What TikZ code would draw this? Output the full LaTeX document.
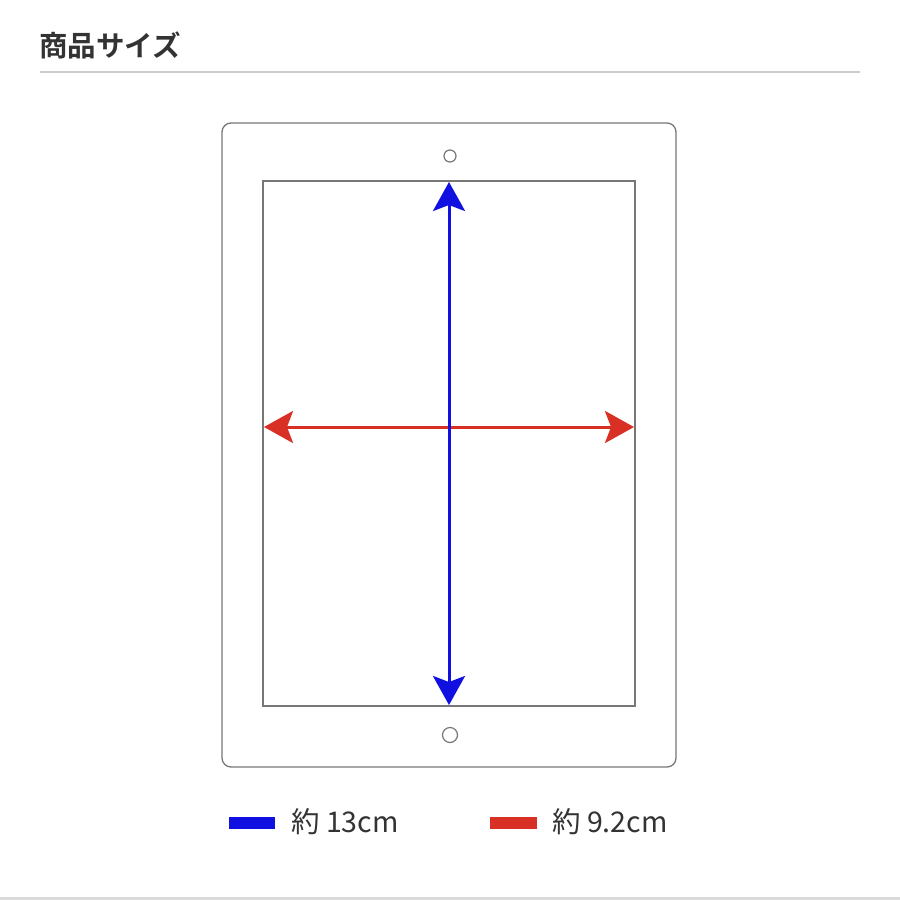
\documentclass[tikz,border=0pt]{standalone}
\usepackage{fontspec}
\newfontfamily\jpfont{Noto Sans CJK JP}
\newfontfamily\jpbold{Noto Sans CJK JP Bold}
\usetikzlibrary{arrows.meta}
\definecolor{frame}{HTML}{777777}
\definecolor{rule}{HTML}{CCCCCC}
\definecolor{dimblue}{HTML}{1010E0}
\definecolor{dimred}{HTML}{D93025}
\definecolor{titlegray}{HTML}{333333}
\tikzset{
  outline/.style={draw=frame, line width=1.3pt},
  dimarrow/.style={line width=3pt, {Stealth[length=29pt,width=32pt,inset=6pt]}-{Stealth[length=29pt,width=32pt,inset=6pt]}},
  legendtext/.style={anchor=west, inner sep=0pt, font=\jpfont\fontsize{28.5pt}{30pt}\selectfont, text=titlegray},
}
\begin{document}
\begin{tikzpicture}[x=1pt,y=-1pt]
\useasboundingbox (0,0) rectangle (900,900);
\fill[white] (0,0) rectangle (900,900);
% title
\node[anchor=west, inner sep=0pt, text=titlegray, font=\jpbold\fontsize{28.5pt}{30pt}\selectfont] (title) at (39,45) {商品サイズ};
\draw[rule, line width=2pt] (40,72) -- (860,72);
% device
\draw[outline, rounded corners=9pt] (222,123) rectangle (676,767);
\node[outline, line width=1.1pt, minimum width=372pt, minimum height=525pt, inner sep=0pt] (screen) at (449,443.5) {};
\node[circle, draw=frame, line width=1.2pt, minimum size=12pt, inner sep=0pt] (camera) at (450,156) {};
\node[circle, draw=frame, line width=1.2pt, minimum size=15pt, inner sep=0pt] (button) at (450,735) {};
% dimension arrows
\coordinate (topmid) at (449,182);
\coordinate (botmid) at (449,705);
\coordinate (leftmid) at (264,427);
\coordinate (rightmid) at (634,427);
\draw[dimarrow, draw=dimred, fill=dimred] (leftmid) -- (rightmid);
\draw[dimarrow, draw=dimblue, fill=dimblue] (topmid) -- (botmid);
% legend
\fill[dimblue] (229,817) rectangle (275,829);
\node[legendtext] (lblue) at (291,822) {約 13cm};
\fill[dimred] (490,817) rectangle (537,829);
\node[legendtext] (lred) at (552,822) {約 9.2cm};
% bottom rule
\fill[rule!70] (0,897) rectangle (900,900);
\end{tikzpicture}
\end{document}
